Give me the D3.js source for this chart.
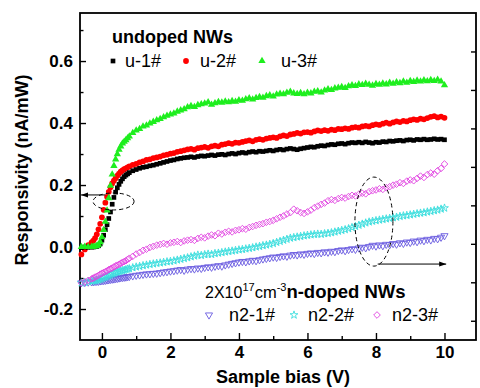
<!DOCTYPE html>
<html>
<head>
<meta charset="utf-8">
<script src="https://cdn.jsdelivr.net/npm/d3@7"></script>
<style>
  html, body { margin: 0; padding: 0; background: #fff; }
  svg { display: block; font-family: "Liberation Sans", Arial, sans-serif; }
</style>
</head>
<body>
<div id="chart"></div>
<script>
// bias points (V), denser through the turn-on region
const biasV = [-0.6,-0.5,-0.4,-0.3,-0.25,-0.2,-0.15,-0.1,-0.05,0,0.05,0.1,0.15,0.2,0.25,0.3,0.35,0.4,0.45,0.5,0.55,0.6,0.65,0.7,0.75,0.8,
  0.9,1,1.1,1.2,1.3,
  1.4,1.5,1.6,1.7,1.8,1.9,2,2.1,2.2,2.3,
  2.4,2.5,2.6,2.7,2.8,2.9,3,3.1,3.2,3.3,
  3.4,3.5,3.6,3.7,3.8,3.9,4,4.1,4.2,4.3,
  4.4,4.5,4.6,4.7,4.8,4.9,5,5.1,5.2,5.3,
  5.4,5.5,5.6,5.7,5.8,5.9,6,6.1,6.2,6.3,
  6.4,6.5,6.6,6.7,6.8,6.9,7,7.1,7.2,7.3,
  7.4,7.5,7.6,7.7,7.8,7.9,8,8.1,8.2,8.3,
  8.4,8.5,8.6,8.7,8.8,8.9,9,9.1,9.2,9.3,
  9.4,9.5,9.6,9.7,9.8,9.9,10];

// undoped NWs, left axis (nA/mW)
const u1 = [-0.002,0.000,-0.001,0.000,0.000,0.001,0.002,0.004,0.010,0.022,0.038,0.056,0.072,0.092,0.113,0.138,0.160,0.177,0.191,0.202,0.212,0.220,0.227,0.232,0.236,0.240,
  0.246,0.250,0.254,0.257,0.259,
  0.262,0.264,0.267,0.270,0.273,0.276,0.279,0.281,0.284,0.286,
  0.288,0.289,0.291,0.289,0.292,0.294,0.293,0.295,0.297,0.295,
  0.298,0.299,0.297,0.300,0.302,0.300,0.303,0.305,0.303,0.306,
  0.308,0.306,0.309,0.308,0.310,0.312,0.310,0.313,0.315,0.313,
  0.316,0.318,0.316,0.314,0.317,0.319,0.321,0.323,0.322,0.325,
  0.327,0.326,0.329,0.331,0.330,0.333,0.334,0.332,0.335,0.337,
  0.336,0.338,0.336,0.339,0.337,0.335,0.338,0.337,0.340,0.339,
  0.342,0.341,0.343,0.344,0.342,0.345,0.346,0.344,0.347,0.346,
  0.348,0.346,0.347,0.349,0.347,0.348,0.346];

const u2 = [-0.024,-0.008,0.006,0.015,0.021,0.029,0.041,0.057,0.075,0.096,0.120,0.143,0.162,0.178,0.193,0.205,0.214,0.222,0.230,0.237,0.243,0.247,0.251,0.254,0.257,0.260,
  0.265,0.268,0.273,0.276,0.281,
  0.283,0.287,0.289,0.292,0.296,0.298,0.301,0.303,0.307,0.309,
  0.312,0.315,0.317,0.314,0.319,0.321,0.323,0.320,0.325,0.327,
  0.325,0.330,0.332,0.335,0.333,0.337,0.336,0.339,0.342,0.344,
  0.341,0.346,0.348,0.346,0.350,0.352,0.354,0.352,0.357,0.360,
  0.358,0.363,0.365,0.368,0.366,0.370,0.371,0.369,0.373,0.376,
  0.374,0.377,0.375,0.379,0.377,0.381,0.380,0.383,0.381,0.385,
  0.387,0.385,0.389,0.391,0.389,0.393,0.396,0.394,0.398,0.401,
  0.398,0.402,0.405,0.403,0.407,0.405,0.409,0.412,0.410,0.414,
  0.412,0.416,0.420,0.422,0.418,0.421,0.417];

const u3 = [0.000,0.001,0.000,0.001,0.001,0.002,0.004,0.008,0.016,0.032,0.055,0.082,0.118,0.158,0.198,0.234,0.262,0.283,0.300,0.314,0.325,0.334,0.340,0.345,0.351,0.357,
  0.368,0.376,0.381,0.389,0.392,
  0.399,0.404,0.409,0.413,0.419,0.424,0.428,0.431,0.437,0.441,
  0.445,0.451,0.455,0.452,0.458,0.461,0.463,0.467,0.459,0.464,
  0.468,0.466,0.470,0.467,0.471,0.469,0.474,0.472,0.477,0.480,
  0.476,0.481,0.484,0.482,0.487,0.490,0.486,0.492,0.495,0.493,
  0.498,0.501,0.496,0.494,0.497,0.493,0.498,0.496,0.501,0.503,
  0.499,0.505,0.509,0.507,0.512,0.514,0.516,0.513,0.519,0.522,
  0.520,0.525,0.523,0.527,0.524,0.521,0.526,0.524,0.528,0.525,
  0.530,0.527,0.532,0.529,0.534,0.530,0.536,0.533,0.537,0.534,
  0.538,0.535,0.539,0.536,0.540,0.534,0.522];

// n-doped NWs, right axis (unlabelled in the figure)
const n21 = [1.97,1.99,2.01,2.02,2.03,2.04,2.05,2.05,2.07,2.08,2.09,2.10,2.12,2.13,2.15,2.16,2.17,2.19,2.20,2.22,2.24,2.25,2.26,2.27,2.29,2.30,
  2.33,2.36,2.38,2.41,2.43,
  2.44,2.46,2.47,2.50,2.53,2.55,2.58,2.60,2.63,2.66,
  2.62,2.68,2.71,2.69,2.74,2.72,2.77,2.80,2.78,2.83,
  2.86,2.84,2.90,2.94,2.98,3.01,3.05,3.08,3.06,3.11,
  3.14,3.12,3.17,3.21,3.24,3.27,3.31,3.29,3.34,3.37,
  3.35,3.41,3.44,3.42,3.47,3.45,3.50,3.52,3.49,3.55,
  3.53,3.58,3.56,3.61,3.59,3.65,3.68,3.64,3.70,3.74,
  3.71,3.78,3.82,3.79,3.86,3.92,3.88,3.94,3.90,3.97,
  3.95,4.01,3.98,4.05,4.02,4.09,4.07,4.14,4.11,4.19,
  4.16,4.23,4.20,4.28,4.26,4.34,4.42];

const n22 = [1.97,2.00,2.03,2.06,2.08,2.09,2.11,2.13,2.16,2.20,2.24,2.28,2.31,2.35,2.39,2.43,2.47,2.50,2.53,2.56,2.59,2.61,2.63,2.66,2.69,2.71,
  2.76,2.80,2.83,2.87,2.90,
  2.93,2.96,2.99,3.01,3.04,3.07,3.09,3.12,3.16,3.20,
  3.24,3.28,3.33,3.37,3.42,3.40,3.44,3.47,3.45,3.50,
  3.52,3.55,3.58,3.61,3.63,3.66,3.69,3.71,3.74,3.77,
  3.80,3.84,3.87,3.91,3.94,3.98,4.02,4.08,4.13,4.19,
  4.24,4.30,4.33,4.36,4.39,4.42,4.45,4.47,4.49,4.51,
  4.50,4.53,4.55,4.58,4.62,4.66,4.70,4.74,4.79,4.85,
  4.91,4.97,5.03,5.09,5.14,5.18,5.21,5.24,5.27,5.30,
  5.33,5.36,5.39,5.43,5.46,5.48,5.51,5.54,5.57,5.60,
  5.62,5.66,5.69,5.73,5.76,5.81,5.86];

const n23 = [1.97,2.02,2.10,2.18,2.22,2.27,2.31,2.36,2.42,2.47,2.51,2.55,2.60,2.66,2.70,2.74,2.80,2.85,2.89,2.93,2.99,3.04,3.08,3.12,3.19,3.25,
  3.35,3.47,3.55,3.66,3.72,
  3.81,3.87,3.93,3.97,4.02,3.98,4.05,4.08,4.12,4.07,
  4.15,4.19,4.22,4.18,4.28,4.34,4.31,4.40,4.46,4.42,
  4.55,4.51,4.60,4.65,4.62,4.70,4.73,4.79,4.76,4.85,
  4.90,4.96,5.01,5.05,5.12,5.16,5.22,5.30,5.38,5.45,
  5.55,5.62,5.80,5.72,5.63,5.58,5.66,5.75,5.88,5.96,
  6.05,6.12,6.24,6.30,6.26,6.35,6.41,6.38,6.46,6.52,
  6.49,6.58,6.63,6.60,6.71,6.76,6.80,6.86,6.83,6.92,
  6.97,7.05,7.10,7.18,7.14,7.26,7.32,7.28,7.40,7.52,
  7.45,7.60,7.68,7.62,7.80,7.92,8.15];

const xMajor = [0, 2, 4, 6, 8, 10];
const xMinor = [1, 3, 5, 7, 9];
const yMajor = [-0.2, 0, 0.2, 0.4, 0.6];
const yMinor = [-0.1, 0.1, 0.3, 0.5, 0.7];
const rightTicks = [0, 2, 4, 6, 8, 10, 12, 14];

const width = 480, height = 388;
const plotL = 80, plotR = 476, plotT = 13, plotB = 340;

const x = d3.scaleLinear().domain([-0.64, 10.92]).range([plotL, plotR]);
const yL = d3.scaleLinear().domain([-0.3, 0.755]).range([plotB, plotT]);
const yR = d3.scaleLinear().domain([-1, 16]).range([plotB, plotT]);

const svg = d3.select('#chart').append('svg')
  .attr('width', width)
  .attr('height', height);

// axes (ticks point inward)
function styleAxis(g) {
  g.select('.domain').remove();
  g.selectAll('.tick line').attr('stroke', '#000').attr('stroke-width', 1.4);
  g.selectAll('.tick text')
    .attr('fill', '#000')
    .style('font-size', '17px')
    .style('font-weight', 'bold');
}
const fmtY = d => d3.format('.1f')(d).replace('\u2212', '-');

svg.append('g')
  .attr('transform', `translate(0,${plotB})`)
  .call(d3.axisBottom(x).tickValues(xMajor).tickSize(-7).tickPadding(6).tickFormat(d3.format('d')))
  .call(styleAxis);
svg.append('g')
  .attr('transform', `translate(0,${plotB})`)
  .call(d3.axisBottom(x).tickValues(xMinor).tickSize(-4).tickFormat(''))
  .call(styleAxis);

svg.append('g')
  .attr('transform', `translate(${plotL},0)`)
  .call(d3.axisLeft(yL).tickValues(yMajor).tickSize(-6).tickPadding(7).tickFormat(fmtY))
  .call(styleAxis);
svg.append('g')
  .attr('transform', `translate(${plotL},0)`)
  .call(d3.axisLeft(yL).tickValues(yMinor).tickSize(-3.5).tickFormat(''))
  .call(styleAxis);

svg.append('g')
  .attr('transform', `translate(${plotR},0)`)
  .call(d3.axisRight(yR).tickValues(rightTicks).tickSize(-5).tickFormat(''))
  .call(styleAxis);

// frame
svg.append('rect')
  .attr('x', plotL).attr('y', plotT)
  .attr('width', plotR - plotL).attr('height', plotB - plotT)
  .attr('fill', 'none').attr('stroke', '#000').attr('stroke-width', 1.8);

// axis titles
svg.append('text')
  .attr('x', 283).attr('y', 383)
  .attr('text-anchor', 'middle')
  .style('font-size', '18px').style('font-weight', 'bold')
  .text('Sample bias (V)');
svg.append('text')
  .attr('transform', 'translate(28,170) rotate(-90)')
  .attr('text-anchor', 'middle')
  .style('font-size', '18px').style('font-weight', 'bold')
  .text('Responsivity (nA/mW)');

// series styles
const styles = {
  'n2-1#': { type: d3.symbolTriangle, rot: 180, size: 22, fill: 'none', stroke: '#6a5be0', sw: 0.9 },
  'n2-2#': { type: d3.symbolStar, rot: 0, size: 19, fill: 'none', stroke: '#3cdede', sw: 0.9 },
  'n2-3#': { type: d3.symbolDiamond2, rot: 0, size: 28, fill: 'none', stroke: '#e040e0', sw: 0.9 },
  'u-2#': { type: d3.symbolCircle, rot: 0, size: 26, fill: '#ff0000', stroke: 'none', sw: 0 },
  'u-1#': { type: d3.symbolSquare, rot: 0, size: 22, fill: '#000000', stroke: 'none', sw: 0 },
  'u-3#': { type: d3.symbolTriangle, rot: 0, size: 23, fill: '#1eee1e', stroke: 'none', sw: 0 }
};

const series = [
  { name: 'n2-1#', values: n21, y: yR },
  { name: 'n2-2#', values: n22, y: yR },
  { name: 'n2-3#', values: n23, y: yR },
  { name: 'u-2#', values: u2, y: yL },
  { name: 'u-1#', values: u1, y: yL },
  { name: 'u-3#', values: u3, y: yL }
];

series.forEach(s => {
  const st = styles[s.name];
  const sym = d3.symbol().type(st.type).size(st.size);
  svg.append('g').selectAll('path')
    .data(biasV.map((b, i) => ({ b, v: s.values[i] })))
    .join('path')
    .attr('transform', d => `translate(${x(d.b)},${s.y(d.v)}) rotate(${st.rot})`)
    .attr('d', sym)
    .attr('fill', st.fill)
    .attr('stroke', st.stroke)
    .attr('stroke-width', st.sw);
});

// annotations: dashed ellipses with arrows to their axes
const defs = svg.append('defs');
defs.append('marker')
  .attr('id', 'arrow')
  .attr('viewBox', '0 0 10 10')
  .attr('refX', 10).attr('refY', 5)
  .attr('markerWidth', 7).attr('markerHeight', 7)
  .attr('markerUnits', 'userSpaceOnUse')
  .attr('orient', 'auto')
  .append('path').attr('d', 'M0,1.5L10,5L0,8.5Z').attr('fill', '#000');

svg.append('ellipse')
  .attr('cx', x(0.34)).attr('cy', yL(0.147))
  .attr('rx', 20.5).attr('ry', 8.5)
  .attr('fill', 'none').attr('stroke', '#000').attr('stroke-width', 1)
  .attr('stroke-dasharray', '4,3');
svg.append('line')
  .attr('x1', x(0.1)).attr('y1', yL(0.168))
  .attr('x2', plotL + 1).attr('y2', yL(0.168))
  .attr('stroke', '#000').attr('stroke-width', 1)
  .attr('marker-end', 'url(#arrow)');

svg.append('ellipse')
  .attr('cx', x(7.94)).attr('cy', yL(0.082))
  .attr('rx', 19).attr('ry', 44.5)
  .attr('fill', 'none').attr('stroke', '#000').attr('stroke-width', 1)
  .attr('stroke-dasharray', '4,3');
svg.append('line')
  .attr('x1', x(8.05)).attr('y1', yL(-0.055))
  .attr('x2', x(10.05)).attr('y2', yL(-0.055))
  .attr('stroke', '#000').attr('stroke-width', 1)
  .attr('marker-end', 'url(#arrow)');

// legends
svg.append('text')
  .attr('x', 112).attr('y', 43)
  .style('font-size', '18px').style('font-weight', 'bold')
  .text('undoped NWs');

const legendTop = [
  { name: 'u-1#', mx: 113, tx: 125 },
  { name: 'u-2#', mx: 186, tx: 200 },
  { name: 'u-3#', mx: 262, tx: 281 }
];
const legendBottom = [
  { name: 'n2-1#', mx: 209, tx: 229 },
  { name: 'n2-2#', mx: 294, tx: 308 },
  { name: 'n2-3#', mx: 377, tx: 392 }
];

function drawLegendRow(items, my, ty) {
  items.forEach(it => {
    const st = styles[it.name];
    svg.append('path')
      .attr('transform', `translate(${it.mx},${my}) rotate(${st.rot})`)
      .attr('d', d3.symbol().type(st.type).size(st.size))
      .attr('fill', st.fill).attr('stroke', st.stroke).attr('stroke-width', st.sw);
    svg.append('text')
      .attr('x', it.tx).attr('y', ty)
      .style('font-size', '18px')
      .text(it.name);
  });
}
drawLegendRow(legendTop, 61, 67);

const t2 = svg.append('text').attr('x', 205).attr('y', 298);
t2.append('tspan').style('font-size', '16px').text('2X10');
t2.append('tspan').style('font-size', '11px').attr('dy', -7).text('17');
t2.append('tspan').style('font-size', '16.5px').attr('dy', 7).text('cm');
t2.append('tspan').style('font-size', '11px').attr('dy', -7).text('-3');
t2.append('tspan').style('font-size', '18.5px').style('font-weight', 'bold').attr('dy', 7).text('n-doped NWs');

drawLegendRow(legendBottom, 315, 321);
</script>
</body>
</html>
